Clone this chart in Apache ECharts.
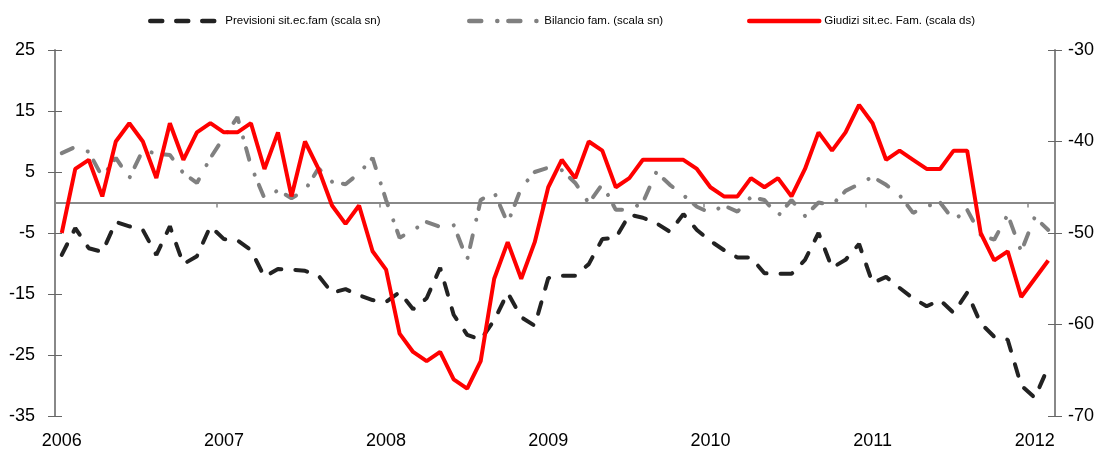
<!DOCTYPE html>
<html>
<head>
<meta charset="utf-8">
<script src="https://cdn.jsdelivr.net/npm/echarts@6/dist/echarts.min.js"></script>
<style>
html,body{margin:0;padding:0;background:#fff;}
#c{width:1102px;height:451px;}
</style>
</head>
<body>
<div id="c"></div>
<script>
// Monthly categories Jan 2006 - Feb 2012
const startYear = 2006;
const nMonths = 74;
const months = [];
for (let i = 0; i < nMonths; i++) {
  const y = startYear + Math.floor(i / 12);
  const m = (i % 12) + 1;
  months.push(y + '-' + (m < 10 ? '0' + m : m));
}

const seriesNames = ['Previsioni sit.ec.fam (scala sn)', 'Bilancio fam. (scala sn)', 'Giudizi sit.ec. Fam. (scala ds)'];

// left scale
const previsioni = [
  -8.6, -4.2, -7.5, -8.1, -3.2, -3.9, -4.5, -8.6, -3.9, -10.1,
  -8.8, -3.9, -6, -6.2, -7.8, -12.2, -10.9, -11, -11.2, -12,
  -14.8, -14.2, -15.2, -16, -16.3, -14.7, -17.5, -15.7, -10.7, -18.4,
  -21.7, -22.5, -19.3, -14.8, -18.8, -20.2, -12.4, -12, -12, -10.1,
  -6, -5.8, -2, -2.5, -3.4, -4.8, -1.9, -4.5, -6.3, -7.8,
  -9, -9, -11.6, -11.7, -11.7, -9.4, -5, -10.7, -9.4, -6.8,
  -13.2, -12.2, -14, -15.7, -17, -16, -18.1, -14.8, -19.8, -22,
  -22.5, -30, -32, -27
];

// left scale
const bilancio = [
  8.1, 9.1, 8.3, 4.2, 7.3, 4, 8.6, 8, 7.8, 4.8,
  3.2, 7.3, 10.7, 14, 6, 0.7, 2, 0.7, 2, 5.6,
  3.4, 3, 4.8, 7.3, 0.4, -5.8, -4.5, -3.2, -4, -3.7,
  -9.4, 0.4, 1.7, -3.4, 2.4, 5, 5.7, 5.3, 3.2, -0.1,
  3, -1.2, -1.2, 0, 5, 2.9, 1.2, -0.7, -1.7, -0.5,
  -1.5, 0.9, 0.4, -2.2, 0.4, -2.2, 0, -0.4, 1.9, 3,
  4.2, 2.9, 1.2, -1.7, -0.6, 0, -2.9, -1.2, -5.3, -6.1,
  -2, -8, -2.4, -4.5
];

// right scale
const giudizi = [
  -50, -43, -42, -46, -40, -38, -40, -44, -38, -42,
  -39, -38, -39, -39, -38, -43, -39, -46, -40, -43,
  -47, -49, -47, -52, -54, -61, -63, -64, -63, -66,
  -67, -64, -55, -51, -55, -51, -45, -42, -44, -40,
  -41, -45, -44, -42, -42, -42, -42, -43, -45, -46,
  -46, -44, -45, -44, -46, -43, -39, -41, -39, -36,
  -38, -42, -41, -42, -43, -43, -41, -41, -50, -53,
  -52, -57, -55, -53
];

const leftAxis = { min: -35, max: 25, interval: 10 };
const rightAxis = { min: -70, max: -30, interval: 10 };

const FONT = "'Liberation Sans', Arial, sans-serif";
const axisColor = '#888888';

const chart = echarts.init(document.getElementById('c'), null, { renderer: 'canvas' });

function legendFor(name, left) {
  return {
    data: [name],
    left: left,
    top: 10,
    itemWidth: 70,
    itemHeight: 12,
    itemGap: 8,
    itemStyle: { opacity: 0 },
    lineStyle: { width: 4.5, cap: 'round' },
    textStyle: { fontFamily: FONT, fontSize: 11.5, color: '#000' },
    selectedMode: false
  };
}

const option = {
  animation: false,
  backgroundColor: '#fff',
  legend: [
    legendFor(seriesNames[0], 143),
    legendFor(seriesNames[1], 462),
    legendFor(seriesNames[2], 742)
  ],
  grid: { left: 55, right: 47, top: 50, bottom: 35, containLabel: false },
  xAxis: [
    {
      type: 'category', data: months, boundaryGap: true, position: 'bottom',
      axisLine: { show: false, onZero: false },
      axisTick: { show: false },
      axisLabel: {
        interval: 11, margin: 16, fontFamily: FONT, fontSize: 18, color: '#000',
        formatter: v => v.slice(0, 4)
      }
    },
    {
      type: 'category', data: months, boundaryGap: true, position: 'bottom',
      axisLine: { show: true, onZero: true, onZeroAxisIndex: 0, lineStyle: { color: axisColor, width: 2 } },
      axisTick: { show: true, interval: 11, length: 5, lineStyle: { color: axisColor, width: 1.5 } },
      axisLabel: { show: false }
    }
  ],
  yAxis: [
    {
      type: 'value', position: 'left', min: leftAxis.min, max: leftAxis.max, interval: leftAxis.interval,
      axisLine: { show: true, onZero: false, lineStyle: { color: axisColor, width: 2 } },
      axisTick: { show: true, length: 7, lineStyle: { color: '#666', width: 1 } },
      axisLabel: { margin: 20, fontFamily: FONT, fontSize: 18, color: '#000' },
      splitLine: { show: false }
    },
    {
      type: 'value', position: 'left', min: leftAxis.min, max: leftAxis.max, interval: leftAxis.interval,
      axisLine: { show: false, onZero: false },
      axisTick: { show: true, inside: true, length: 7, lineStyle: { color: '#666', width: 1 } },
      axisLabel: { show: false },
      splitLine: { show: false }
    },
    {
      type: 'value', position: 'right', min: rightAxis.min, max: rightAxis.max, interval: rightAxis.interval,
      axisLine: { show: true, onZero: false, lineStyle: { color: axisColor, width: 2 } },
      axisTick: { show: true, length: 7, lineStyle: { color: '#666', width: 1 } },
      axisLabel: { margin: 13, fontFamily: FONT, fontSize: 18, color: '#000' },
      splitLine: { show: false }
    },
    {
      type: 'value', position: 'right', min: rightAxis.min, max: rightAxis.max, interval: rightAxis.interval,
      axisLine: { show: false, onZero: false },
      axisTick: { show: true, inside: true, length: 7, lineStyle: { color: '#666', width: 1 } },
      axisLabel: { show: false },
      splitLine: { show: false }
    }
  ],
  series: [
    {
      name: seriesNames[0], type: 'line', xAxisIndex: 0, yAxisIndex: 0, data: previsioni,
      symbol: 'none', color: '#222222',
      lineStyle: { color: '#222222', width: 4, type: [12, 14], cap: 'round' }
    },
    {
      name: seriesNames[1], type: 'line', xAxisIndex: 0, yAxisIndex: 0, data: bilancio,
      symbol: 'none', color: '#808080',
      lineStyle: { color: '#808080', width: 4, type: [12, 16, 0.1, 11], cap: 'round' }
    },
    {
      name: seriesNames[2], type: 'line', xAxisIndex: 0, yAxisIndex: 2, data: giudizi,
      symbol: 'none', color: '#ff0000',
      lineStyle: { color: '#ff0000', width: 4 }
    }
  ]
};

chart.setOption(option);
</script>
</body>
</html>
